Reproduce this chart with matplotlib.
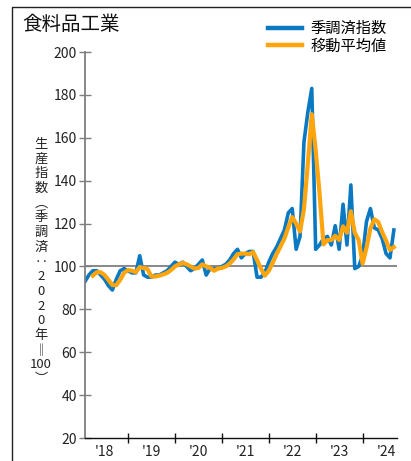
import matplotlib
matplotlib.use('Agg')
import matplotlib.pyplot as plt
from matplotlib.lines import Line2D
import numpy as np

plt.rcParams['font.family'] = ['Noto Sans CJK JP', 'DejaVu Sans']

title = '食料品工業'
series_names = ['季調済指数', '移動平均値']
year_labels = ["'18", "'19", "'20", "'21", "'22", "'23", "'24"]
ylabel_chars = ['生', '産', '指', '数', '︵', '季', '調', '済', '‥', '2', '0', '2', '0', '年', '‖', '100', '︶']

# seasonally adjusted index (monthly)
seasonal = [93, 96, 98, 98, 96, 94, 91, 89, 94, 98,
            99, 98, 97, 97, 105, 96, 95, 95, 96, 96,
            97, 98, 100, 102, 101, 102, 100, 98, 99, 101,
            103, 96, 99, 99, 99, 100, 101, 103, 106, 108,
            104, 106, 107, 107, 95, 95, 97, 102, 106, 109,
            113, 117, 125, 127, 108, 114, 158, 172, 183, 108,
            110, 113, 114, 110, 119, 108, 129, 110, 138, 99,
            100, 105, 121, 127, 118, 117, 113, 106, 104, 117]

# moving average
moving_avg = [np.nan, np.nan, 95.7, 97.3, 97.3, 96.0, 93.7, 91.3, 91.3, 93.7,
              97.0, 98.3, 98.0, 97.3, 99.7, 99.3, 98.7, 95.3, 95.3, 95.7,
              96.3, 97.0, 98.3, 100.0, 101.0, 101.7, 101.0, 100.0, 99.0, 99.3,
              101.0, 100.0, 99.3, 98.0, 99.0, 99.3, 100.0, 101.3, 103.3, 105.7,
              106.0, 106.0, 105.7, 106.7, 103.0, 99.0, 95.7, 98.0, 101.7, 105.7,
              109.3, 113.0, 118.3, 123.0, 120.0, 116.3, 126.7, 148.0, 171.0, 154.3,
              133.7, 110.3, 112.3, 112.3, 114.3, 112.3, 118.7, 115.7, 125.7, 115.7,
              112.3, 101.3, 108.7, 117.7, 122.0, 120.7, 116.0, 112.0, 107.7, 109.0]

BLUE = '#0b79c2'
ORANGE = '#fea40c'
W, H = 411, 461

fig = plt.figure(figsize=(W / 100, H / 100), dpi=100)
fig.patch.set_facecolor('white')

ax = fig.add_axes([85 / W, 1 - 438 / H, (397 - 85) / W, (438 - 52) / H])
x = np.arange(len(seasonal))
ax.axhline(100, color='#7f7f7f', lw=1.3, zorder=1)
ax.plot(x, seasonal, color=BLUE, lw=2.6, zorder=2)
ax.plot(x, moving_avg, color=ORANGE, lw=3.0, zorder=3)

ax.set_xlim(0, 79.8)
ax.set_ylim(20, 200)
ax.set_yticks(range(20, 201, 20))
ax.set_xticks([11 + 12 * k for k in range(6)])
ax.set_xticklabels([''] * 6)
ax.set_xticks([5 + 12 * k for k in range(7)], minor=True)
ax.set_xticklabels(year_labels, minor=True)

for s in ['top', 'right']:
    ax.spines[s].set_visible(False)
ax.spines['left'].set_color('#7f7f7f')
ax.spines['left'].set_linewidth(1.3)
ax.spines['bottom'].set_color('#111111')
ax.spines['bottom'].set_linewidth(1.0)

ax.tick_params(axis='y', direction='inout', length=8, width=1, color='#7f7f7f',
               labelsize=10, labelcolor='#222222', pad=2)
ax.tick_params(axis='x', which='major', direction='inout', length=7, width=1, color='#111111')
ax.tick_params(axis='x', which='minor', length=0, labelsize=10, labelcolor='#222222', pad=5)

# vertical y-axis label (stacked characters)
fig.text(41 / W, 1 - 262 / H, '\n'.join(ylabel_chars), fontsize=9.5, ha='center', va='center',
         multialignment='center', linespacing=1.17, color='#222222')

fig.text(22 / W, 1 - 25 / H, title, fontsize=14, ha='left', va='center', color='#111111')

handles = [Line2D([], [], color=BLUE, lw=3.2), Line2D([], [], color=ORANGE, lw=3.2)]
fig.legend(handles, series_names, loc='upper left', bbox_to_anchor=(268 / W, 1 - 20 / H),
           frameon=False, fontsize=11, handlelength=2.2, handletextpad=0.6,
           labelspacing=0.05, borderaxespad=0, borderpad=0)

# figure frame (left and top edges)
fig.add_artist(Line2D([12 / W, 12 / W, 1.0], [0.0, 1 - 7 / H, 1 - 7 / H],
                      transform=fig.transFigure, color='#222222', lw=1.0))

fig.savefig('out.png', dpi=100)
